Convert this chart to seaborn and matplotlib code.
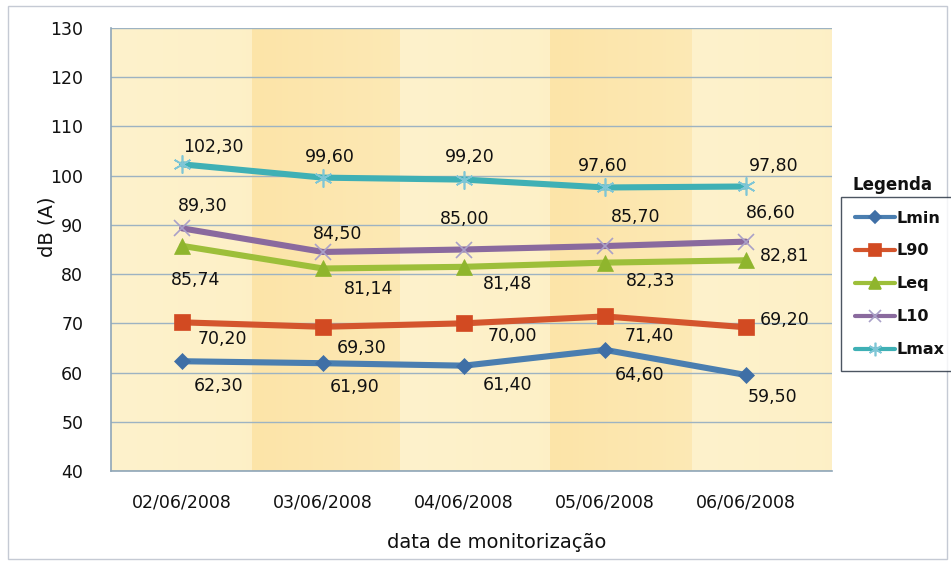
import numpy as np
import pandas as pd
import matplotlib
matplotlib.use("Agg")
import matplotlib.pyplot as plt
from matplotlib.patches import Rectangle
from matplotlib.lines import Line2D
import seaborn as sns

# ---- data -------------------------------------------------------------
dates = ["02/06/2008", "03/06/2008", "04/06/2008", "05/06/2008", "06/06/2008"]
series_names = ["Lmin", "L90", "Leq", "L10", "Lmax"]
lmin = [62.30, 61.90, 61.40, 64.60, 59.50]
l90 = [70.20, 69.30, 70.00, 71.40, 69.20]
leq = [85.74, 81.14, 81.48, 82.33, 82.81]
l10 = [89.30, 84.50, 85.00, 85.70, 86.60]
lmax = [102.30, 99.60, 99.20, 97.60, 97.80]
y_ticks = [40, 50, 60, 70, 80, 90, 100, 110, 120, 130]

values = {"Lmin": lmin, "L90": l90, "Leq": leq, "L10": l10, "Lmax": lmax}

# ---- styles -----------------------------------------------------------
colors = {"Lmin": "#4a7eb0", "L90": "#d4552d", "Leq": "#9dbf3a",
          "L10": "#8a6a9e", "Lmax": "#3fb0b5"}
markers = {"Lmin": "D", "L90": "s", "Leq": "^", "L10": "x", "Lmax": (6, 2, 0)}
msizes = {"Lmin": 8, "L90": 11, "Leq": 11, "L10": 11, "Lmax": 13}
mcolors = {"Lmin": "#3f6fa6", "L90": "#d24a22", "Leq": "#8fb52d",
           "L10": "#a9a0c8", "Lmax": "#7fc6d6"}
text_color = "#111111"

# label offsets in pixels (dx, dy) relative to each point
offsets = {
    "Lmax": [(31, 17), (7, 21), (6, 23), (-2, 21), (28, 20)],
    "L10": [(21, 22), (15, 18), (1, 30), (31, 29), (25, 29)],
    "Leq": [(14, -34), (46, -21), (44, -17), (46, -18), (39, 4)],
    "L90": [(40, -17), (39, -21), (48, -13), (44, -20), (39, 7)],
    "Lmin": [(37, -25), (32, -24), (43, -19), (35, -25), (27, -22)],
}

rows = []
for name in series_names:
    for i, (d, v) in enumerate(zip(dates, values[name])):
        rows.append({"pos": i, "data": d, "serie": name, "dB": v})
df = pd.DataFrame(rows)

sns.set_theme(style="white")
plt.rcParams["font.family"] = ["DejaVu Sans"]

fig = plt.figure(figsize=(9.51, 5.65), dpi=100)
ax = fig.add_axes([111 / 951, 1 - 471 / 565, 721 / 951, 443 / 565])

# striped background of the plot area
edges = [0.0, 0.196, 0.401, 0.609, 0.806, 1.0]
light = np.array([254, 242, 204]) / 255
dark = np.array([252, 228, 168]) / 255
n = 721
img = np.zeros((1, n, 3))
xs = (np.arange(n) + 0.5) / n
for k in range(5):
    sel = (xs >= edges[k]) & (xs < edges[k + 1])
    t = (xs[sel] - edges[k]) / (edges[k + 1] - edges[k])
    if k % 2 == 1:
        col = dark[None, :] * (1 - 0.35 * t[:, None]) + light[None, :] * (0.35 * t[:, None])
    else:
        col = light[None, :] * (1 - 0.15 * t[:, None]) + dark[None, :] * (0.15 * t[:, None])
    img[0, sel] = col
ax.imshow(img, extent=[0, 1, 0, 1], transform=ax.transAxes, aspect="auto",
          zorder=0, interpolation="bilinear")

# horizontal grid lines
for yv in y_ticks:
    ax.axhline(yv, color="#9db3c2", lw=1.0, zorder=1)

for name in series_names:
    sub = df[df["serie"] == name]
    sns.lineplot(data=sub, x="pos", y="dB", ax=ax, color=colors[name],
                 linewidth=4.4, marker=markers[name], markersize=msizes[name],
                 markerfacecolor=mcolors[name], markeredgecolor=mcolors[name],
                 markeredgewidth=1.2 if name in ("L10", "Lmax") else 0.5,
                 zorder=3, legend=False)
    for i, v in enumerate(values[name]):
        dx, dy = offsets[name][i]
        ax.annotate(f"{v:.2f}".replace(".", ","), xy=(i, v),
                    xytext=(dx, dy), textcoords="offset pixels",
                    ha="center", va="center", fontsize=12.5,
                    color=text_color, zorder=4)

ax.set_xlim(-0.504, 4.61)
ax.set_ylim(40, 130)
ax.set_yticks(y_ticks)
ax.set_yticklabels([str(t) for t in y_ticks], fontsize=12.5, color=text_color)
ax.set_xticks(range(len(dates)))
ax.set_xticklabels(dates, fontsize=12.5, color=text_color)
ax.tick_params(axis="both", length=0)
ax.tick_params(axis="y", pad=20)
ax.tick_params(axis="x", pad=16)
ax.set_xlabel("")
ax.set_ylabel("")
for side in ["top", "right"]:
    ax.spines[side].set_visible(False)
for side in ["left", "bottom"]:
    ax.spines[side].set_color("#8fa6b8")
    ax.spines[side].set_linewidth(1.2)

fig.text(47 / 951, 1 - 227 / 565, "dB (A)", rotation=90, ha="center",
         va="center", fontsize=14, color=text_color)
fig.text(497 / 951, 1 - 543 / 565, "data de monitorização", ha="center",
         va="center", fontsize=14, color=text_color)

# legend with its title above the frame
handles = [Line2D([0], [0], color=colors[nm], lw=3, marker=markers[nm],
                  markersize=msizes[nm] * 0.75, markerfacecolor=mcolors[nm],
                  markeredgecolor=mcolors[nm], markeredgewidth=1.2)
           for nm in series_names]
leg = fig.legend(handles, series_names, loc="upper left",
                 bbox_to_anchor=(841 / 951, 1 - 197 / 565),
                 bbox_transform=fig.transFigure, borderaxespad=0,
                 frameon=True, fancybox=False, handlelength=2.5,
                 handletextpad=0.15, labelspacing=1.12, borderpad=0.85,
                 prop={"weight": "bold", "size": 11.5})
leg.get_frame().set_edgecolor("#1f2a3a")
leg.get_frame().set_linewidth(1.0)
for t in leg.get_texts():
    t.set_color(text_color)
fig.text(893 / 951, 1 - 185 / 565, "Legenda", ha="center", va="center",
         fontsize=12, fontweight="bold", color=text_color)

# outer chart border
fig.patches.append(Rectangle((8 / 951, 1 - 559 / 565), 939 / 951, 553 / 565,
                             transform=fig.transFigure, fill=False,
                             edgecolor="#c5cad4", lw=1.0))

fig.savefig("out.png", dpi=100)
